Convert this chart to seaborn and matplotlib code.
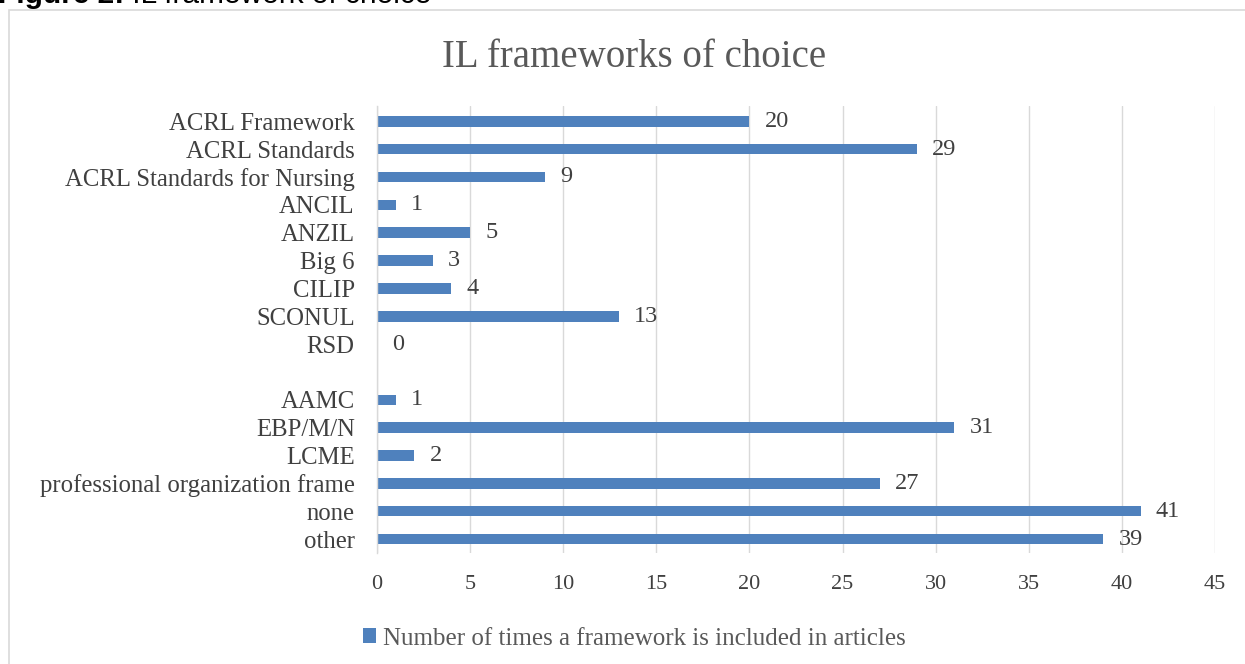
import numpy as np
import pandas as pd
import matplotlib
matplotlib.use("Agg")
import matplotlib.pyplot as plt
import seaborn as sns
from matplotlib.patches import Rectangle

categories = ["ACRL Framework", "ACRL Standards", "ACRL Standards for Nursing",
              "ANCIL", "ANZIL", "Big 6", "CILIP", "SCONUL", "RSD", " ",
              "AAMC", "EBP/M/N", "LCME", "professional organization frame",
              "none", "other"]
values = [20, 29, 9, 1, 5, 3, 4, 13, 0, 0, 1, 31, 2, 27, 41, 39]
value_labels = ["20", "29", "9", "1", "5", "3", "4", "13", "0", "",
                "1", "31", "2", "27", "41", "39"]
x_ticks = [0, 5, 10, 15, 20, 25, 30, 35, 40, 45]
title = "IL frameworks of choice"
series_name = "Number of times a framework is included in articles"
caption_bold = "Figure 2:"
caption_rest = " IL framework of choice"

sns.set_theme(style="white")
plt.rcParams['font.family'] = ['Liberation Serif', 'DejaVu Serif']

df = pd.DataFrame({"category": categories, "value": values})

fig = plt.figure(figsize=(12.45, 6.64), dpi=100)
ax = fig.add_axes([0.3028, 0.1672, 0.6731, 0.6732])

bar_color = "#4F81BD"
text_color = "#404040"
sns.barplot(data=df, x="value", y="category", order=categories, color=bar_color,
            width=0.38, linewidth=0, ax=ax, label=series_name, saturation=1)

ax.bar_label(ax.containers[0], labels=value_labels, padding=11, fontsize=17.5,
             color=text_color)

ax.set_xlim(0, 45)
ax.set_ylim(15.5, -0.55)
ax.set_xticks(x_ticks)
ax.set_xticklabels([str(t) for t in x_ticks], fontsize=16, color=text_color)
ax.tick_params(axis='y', labelsize=17.8, colors=text_color, length=0, pad=16)
ax.tick_params(axis='x', length=0, pad=16)
ax.set_xlabel("")
ax.set_ylabel("")
ax.grid(axis='x', color="#D9D9D9", linewidth=1)
ax.set_axisbelow(True)
for s in ["top", "right", "bottom"]:
    ax.spines[s].set_visible(False)
ax.spines["left"].set_color("#D9D9D9")
ax.spines["left"].set_linewidth(1)

fig.text(0.509, 0.913, title, ha="center", va="center", fontsize=28, color="#595959")

leg = ax.legend(loc="center left", bbox_to_anchor=(-0.029, -0.192), frameon=False,
                fontsize=18, handlelength=0.55, handleheight=0.55, handletextpad=0.25,
                labelcolor="#595959", borderaxespad=0)

# outer chart border
fig.patches.append(Rectangle((0.0075, -0.01), 1.0, 0.995, transform=fig.transFigure,
                             fill=False, edgecolor="#D9D9D9", linewidth=1.2))
# partially visible caption at top
t1 = fig.text(-0.002, 1 - 3 / 664, caption_bold, ha="left", va="baseline",
              fontsize=21.5, fontweight="bold", family=["Liberation Sans", "DejaVu Sans"],
              color="black")
fig.canvas.draw()
w = t1.get_window_extent().width
fig.text(-0.002 + w / fig.bbox.width, 1 - 3 / 664, caption_rest, ha="left",
         va="baseline", fontsize=21.5, family=["Liberation Sans", "DejaVu Sans"],
         color="black")

fig.savefig("out.png", dpi=100)
